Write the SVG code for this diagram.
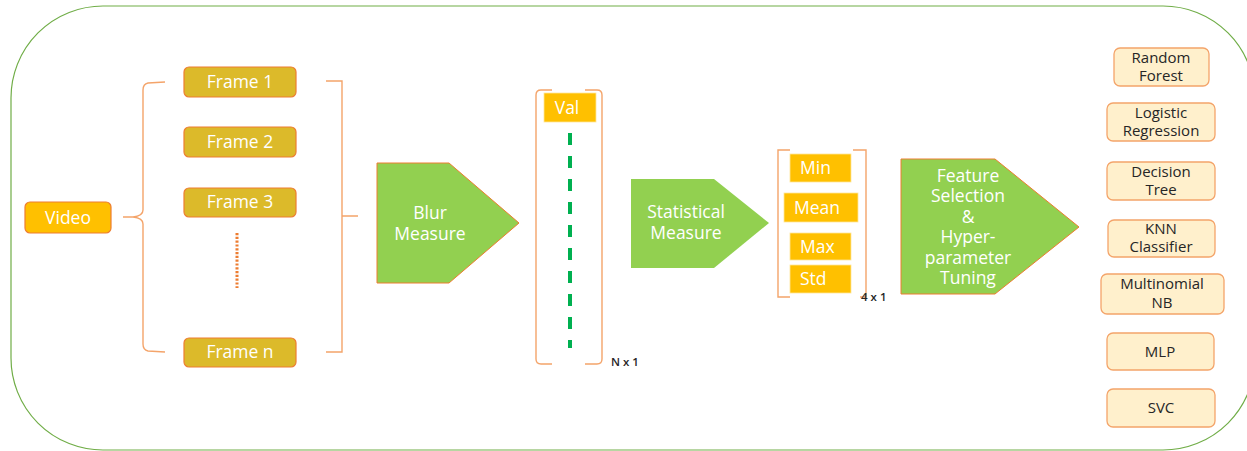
<svg xmlns="http://www.w3.org/2000/svg" width="1247" height="451" viewBox="0 0 1247 451">
  <style>
    .frame { fill: #FFFFFF; stroke: #70AD47; stroke-width: 1.2; }
    .src { fill: #FFC000; stroke: #ED7D31; stroke-width: 1.2; }
    .fr { fill: #DCBA2A; stroke: #ED7D31; stroke-width: 1.2; }
    .cell { fill: #FFC000; stroke: #FFE699; stroke-width: 0.8; }
    .step { fill: #92D050; stroke: #ED7D31; stroke-width: 1; }
    .step2 { fill: #92D050; stroke: none; }
    .clf { fill: #FFF0CC; stroke: #F4A46A; stroke-width: 1.3; }
    .br { fill: none; stroke: #F4A46A; stroke-width: 1.4; }
    .wt { font-family: "Open Sans", "Liberation Sans", sans-serif; font-size: 17.5px; fill: #FFFFFF; text-anchor: middle; }
    .wl { font-family: "Open Sans", "Liberation Sans", sans-serif; font-size: 17.5px; fill: #FFFFFF; text-anchor: start; }
    .ct { font-family: "Open Sans", "Liberation Sans", sans-serif; font-size: 15px; fill: #262626; text-anchor: middle; }
    .dim { font-family: "Open Sans", "Liberation Sans", sans-serif; font-size: 11.5px; font-weight: 600; fill: #262626; }
  </style>

  <!-- rounded outer boundary -->
  <rect class="frame" x="11" y="6" width="1244" height="444" rx="92" ry="92"/>

  <g id="connectors">
    <!-- brace fanning the video out into frames -->
    <path class="br" d="M165,82 L148,83 Q143,84 143,90 L143,210 Q143,216 133,217 L123,217 L133,217 Q143,218 143,224 L143,344 Q143,350 148,351 L165,352"/>
    <!-- bracket gathering the frames -->
    <path class="br" d="M326,81 L342,81 L342,352 L326,352 M342,216 L358,216"/>
    <!-- frame ellipsis -->
    <line x1="237" y1="233" x2="237" y2="288" stroke="#ED7D31" stroke-width="3" stroke-dasharray="2.2 1.6"/>
    <!-- N x 1 column bracket -->
    <path class="br" d="M552,90 L541,90 Q536,90 536,95 L536,359 Q536,364 541,364 L552,364 M585,90 L597,90 Q602,90 602,95 L602,359 Q602,364 597,364 L585,364"/>
    <line x1="570" y1="133" x2="570" y2="348" stroke="#00B050" stroke-width="4" stroke-dasharray="12 11"/>
    <!-- 4 x 1 column bracket -->
    <path class="br" d="M790,150 L778,150 L778,297 L790,297 M853,150 L866,150 L866,297 L860,297"/>
  </g>

  <g id="video">
    <rect class="src" x="25" y="202" width="86" height="31" rx="5"/>
    <text class="wt" x="68" y="224">Video</text>
  </g>

  <g id="frame-1">
    <rect class="fr" x="184" y="67" width="112" height="30" rx="5"/>
    <text class="wt" x="240" y="88">Frame 1</text>
  </g>
  <g id="frame-2">
    <rect class="fr" x="184" y="127" width="112" height="30" rx="5"/>
    <text class="wt" x="240" y="148">Frame 2</text>
  </g>
  <g id="frame-3">
    <rect class="fr" x="184" y="188" width="112" height="29" rx="5"/>
    <text class="wt" x="240" y="208">Frame 3</text>
  </g>
  <g id="frame-n">
    <rect class="fr" x="184" y="338" width="112" height="29" rx="5"/>
    <text class="wt" x="240" y="358">Frame n</text>
  </g>

  <g id="blur-measure">
    <polygon class="step" points="377,163 449,163 519,223 449,283 377,283"/>
    <text class="wt" x="430" y="219">Blur</text>
    <text class="wt" x="430" y="240">Measure</text>
  </g>

  <g id="values">
    <rect class="cell" x="544" y="93" width="52" height="29"/>
    <text class="wt" x="567" y="114">Val</text>
    <text class="dim" x="611" y="366">N x 1</text>
  </g>

  <g id="statistical-measure">
    <polygon class="step2" points="631,179 714,179 769,223 714,268 631,268"/>
    <text class="wt" x="686" y="218">Statistical</text>
    <text class="wt" x="686" y="239">Measure</text>
  </g>

  <g id="statistics">
    <rect class="cell" x="790" y="154" width="61" height="28"/>
    <text class="wl" x="800" y="174">Min</text>
    <rect class="cell" x="784" y="193" width="74" height="29"/>
    <text class="wl" x="794" y="214">Mean</text>
    <rect class="cell" x="790" y="233" width="61" height="27"/>
    <text class="wl" x="800" y="253">Max</text>
    <rect class="cell" x="790" y="265" width="61" height="28"/>
    <text class="wl" x="800" y="285">Std</text>
    <text class="dim" x="861" y="301">4 x 1</text>
  </g>

  <g id="feature-selection">
    <polygon class="step" points="901,159 995,159 1079,227 995,294 901,294"/>
    <text class="wt" x="968" y="182">Feature</text>
    <text class="wt" x="968" y="202">Selection</text>
    <text class="wt" x="968" y="223">&amp;</text>
    <text class="wt" x="968" y="243">Hyper-</text>
    <text class="wt" x="968" y="264">parameter</text>
    <text class="wt" x="968" y="284">Tuning</text>
  </g>

  <g id="random-forest">
    <rect class="clf" x="1114" y="48" width="95" height="38" rx="6"/>
    <text class="ct" x="1161" y="63">Random</text>
    <text class="ct" x="1161" y="81">Forest</text>
  </g>
  <g id="logistic-regression">
    <rect class="clf" x="1107" y="103" width="108" height="38" rx="6"/>
    <text class="ct" x="1161" y="118">Logistic</text>
    <text class="ct" x="1161" y="136">Regression</text>
  </g>
  <g id="decision-tree">
    <rect class="clf" x="1107" y="162" width="108" height="38" rx="6"/>
    <text class="ct" x="1161" y="177">Decision</text>
    <text class="ct" x="1161" y="195">Tree</text>
  </g>
  <g id="knn-classifier">
    <rect class="clf" x="1108" y="220" width="107" height="37" rx="6"/>
    <text class="ct" x="1161" y="234">KNN</text>
    <text class="ct" x="1161" y="252">Classifier</text>
  </g>
  <g id="multinomial-nb">
    <rect class="clf" x="1101" y="274" width="123" height="40" rx="6"/>
    <text class="ct" x="1162" y="289">Multinomial</text>
    <text class="ct" x="1162" y="308">NB</text>
  </g>
  <g id="mlp">
    <rect class="clf" x="1107" y="333" width="107" height="37" rx="6"/>
    <text class="ct" x="1160" y="357">MLP</text>
  </g>
  <g id="svc">
    <rect class="clf" x="1107" y="389" width="108" height="38" rx="6"/>
    <text class="ct" x="1161" y="413">SVC</text>
  </g>
</svg>
